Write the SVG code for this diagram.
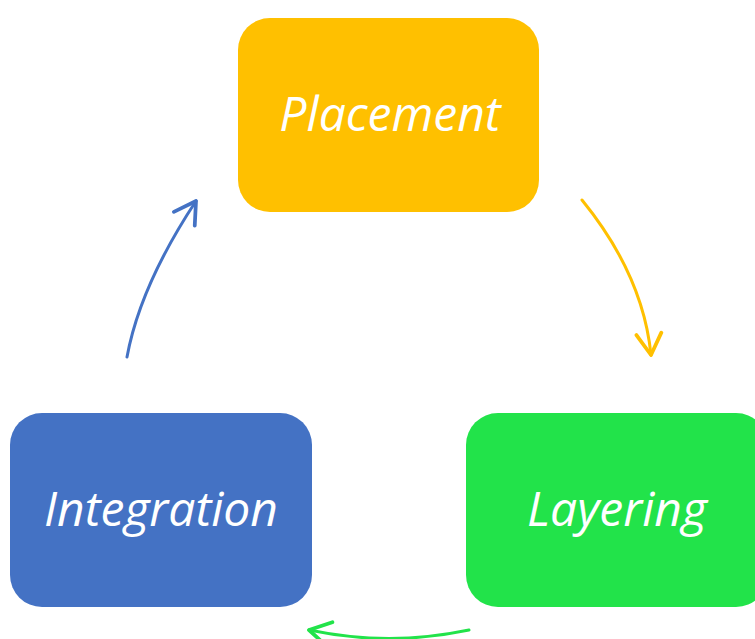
<svg xmlns="http://www.w3.org/2000/svg" width="755" height="639" viewBox="0 0 755 639">
<style>
.lbl{font-family:"Open Sans","Noto Sans","Liberation Sans",sans-serif;font-style:italic;font-size:48px;fill:#FFFFFF;text-anchor:middle}
.c{fill:none;stroke-width:3;stroke-linecap:round}
</style>
<defs>
<marker id="ay" markerUnits="userSpaceOnUse" markerWidth="30" markerHeight="30" viewBox="-20 -12 24 24" refX="0" refY="0" orient="auto"><path d="M-17,-10 L0,0 L-17,10" fill="none" stroke="#FFC000" stroke-width="3" stroke-linecap="round" stroke-linejoin="round"/></marker>
<marker id="ab" markerUnits="userSpaceOnUse" markerWidth="30" markerHeight="30" viewBox="-20 -12 24 24" refX="0" refY="0" orient="auto"><path d="M-17,-10 L0,0 L-17,10" fill="none" stroke="#4472C4" stroke-width="3" stroke-linecap="round" stroke-linejoin="round"/></marker>
<marker id="ag" markerUnits="userSpaceOnUse" markerWidth="30" markerHeight="30" viewBox="-20 -12 24 24" refX="0" refY="0" orient="auto"><path d="M-17,-10 L0,0 L-17,10" fill="none" stroke="#22E34A" stroke-width="3" stroke-linecap="round" stroke-linejoin="round"/></marker>
</defs>
<rect width="755" height="639" fill="#FFFFFF"/>
<g id="connectors">
<path class="c" d="M582,200 Q643,275 651,355" stroke="#FFC000" marker-end="url(#ay)"/>
<path class="c" d="M127,357 Q140,286 196,201" stroke="#4472C4" marker-end="url(#ab)"/>
<path class="c" d="M469,630 Q389,647 309,630" stroke="#22E34A" marker-end="url(#ag)"/>
</g>
<g id="placement">
<rect x="238" y="18" width="301" height="194" rx="32" fill="#FFC000"/>
<text class="lbl" x="390" y="131">Placement</text>
</g>
<g id="integration">
<rect x="10" y="413" width="302" height="194" rx="32" fill="#4472C4"/>
<text class="lbl" x="161" y="526">Integration</text>
</g>
<g id="layering">
<rect x="466" y="413" width="302" height="194" rx="32" fill="#22E34A"/>
<text class="lbl" x="617" y="526">Layering</text>
</g>
</svg>
